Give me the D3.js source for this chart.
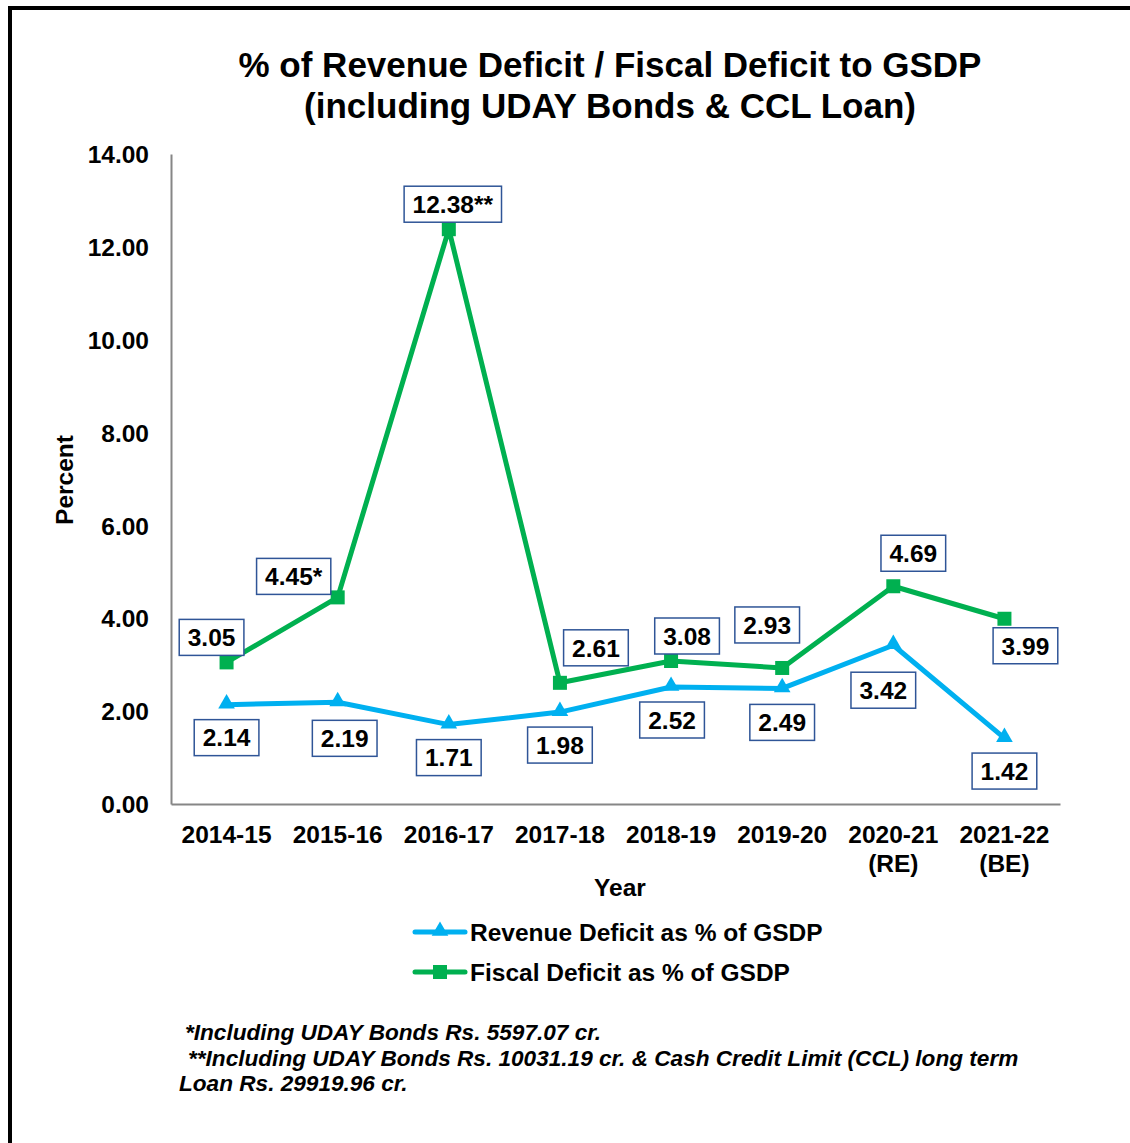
<!DOCTYPE html>
<html><head><meta charset="utf-8">
<script src="https://cdn.jsdelivr.net/npm/d3@7"></script>
<style>body{margin:0;background:#fff}svg{display:block}text{font-family:"Liberation Sans",Arial,sans-serif;font-weight:bold}</style>
</head><body><svg id="c" width="1130" height="1143"></svg>
<script>
const years = ["2014-15","2015-16","2016-17","2017-18","2018-19","2019-20","2020-21\n(RE)","2021-22\n(BE)"];
const revenueDeficit = [2.14,2.19,1.71,1.98,2.52,2.49,3.42,1.42];
const fiscalDeficit = [3.05,4.45,12.38,2.61,3.08,2.93,4.69,3.99];
const fiscalLabels = ["3.05","4.45*","12.38**","2.61","3.08","2.93","4.69","3.99"];
const revenueLabels = ["2.14","2.19","1.71","1.98","2.52","2.49","3.42","1.42"];
const yTicks = [0,2,4,6,8,10,12,14];
const fiscalOffsets = [[-15,-25],[-44,-21],[4,-25],[36,-35],[16,-25],[-15,-43],[20,-33],[21,27]];
const revenueOffsets = [[0,33],[7,36],[0,33],[0,33],[1,33],[0,34],[-10,45],[0,33]];
const footnotes = ["*Including UDAY Bonds Rs. 5597.07 cr.","**Including UDAY Bonds Rs. 10031.19 cr. & Cash Credit Limit (CCL) long term","Loan Rs. 29919.96 cr."];

const svg = d3.select("#c");
const blue = "#00B0F0", green = "#00B050", boxStroke = "#2F5597";
const FS = 24.5;

svg.append("rect").attr("x",10).attr("y",8).attr("width",1140).attr("height",1160)
  .attr("fill","none").attr("stroke","#000").attr("stroke-width",4);

svg.append("text").attr("x",610).attr("y",77).attr("text-anchor","middle").attr("font-size",35)
  .text("% of Revenue Deficit / Fiscal Deficit to GSDP");
svg.append("text").attr("x",610).attr("y",118).attr("text-anchor","middle").attr("font-size",35)
  .text("(including UDAY Bonds & CCL Loan)");

const x = d3.scaleBand().domain(years).range([171,1060]);
const y = d3.scaleLinear().domain([0,14]).range([804,154]);
const cx = d => x(d) + x.bandwidth()/2;

const yAx = svg.append("g").attr("transform","translate(171,0)")
  .call(d3.axisLeft(y).tickValues(yTicks).tickFormat(d3.format(".2f")).tickSize(0).tickPadding(22));
yAx.select(".domain").attr("stroke","#868686").attr("stroke-width",2);
yAx.selectAll("text").attr("font-size",FS).attr("fill","#000").attr("font-family","Liberation Sans").attr("font-weight","bold").attr("dy","0.35em");

const xAx = svg.append("g").attr("transform","translate(0,804)")
  .call(d3.axisBottom(x).tickSize(0).tickFormat(""));
xAx.select(".domain").attr("stroke","#868686").attr("stroke-width",2);
xAx.selectAll(".tick").each(function(d){
  const parts = d.split("\n");
  const t = d3.select(this).append("text").attr("font-size",FS).attr("fill","#000").attr("text-anchor","middle")
    .attr("font-family","Liberation Sans").attr("font-weight","bold");
  parts.forEach((p,i)=>t.append("tspan").attr("x",0).attr("y",39+i*29).text(p));
});

svg.append("text").attr("x",620).attr("y",896).attr("text-anchor","middle").attr("font-size",FS).text("Year");
svg.append("text").attr("transform","translate(73,480) rotate(-90)").attr("text-anchor","middle").attr("font-size",FS).text("Percent");

const line = d3.line().x((d,i)=>cx(years[i])).y(d=>y(d));
svg.append("path").datum(revenueDeficit).attr("d",line).attr("fill","none").attr("stroke",blue).attr("stroke-width",5).attr("stroke-linejoin","round");
svg.append("path").datum(fiscalDeficit).attr("d",line).attr("fill","none").attr("stroke",green).attr("stroke-width",5).attr("stroke-linejoin","round");

const tri = d3.symbol().type(d3.symbolTriangle).size(120);
svg.selectAll(".rm").data(revenueDeficit).enter().append("path")
  .attr("d",tri).attr("fill",blue)
  .attr("transform",(d,i)=>`translate(${cx(years[i])},${y(d)-1})`);
svg.selectAll(".fm").data(fiscalDeficit).enter().append("rect")
  .attr("x",(d,i)=>cx(years[i])-7).attr("y",d=>y(d)-7).attr("width",14).attr("height",14).attr("fill",green);

function labels(vals, texts, offs){
  vals.forEach((v,i)=>{
    const px = cx(years[i]) + offs[i][0], py = y(v) + offs[i][1];
    const g = svg.append("g");
    const t = g.append("text").attr("x",px).attr("y",py).attr("dy","0.36em").attr("text-anchor","middle").attr("font-size",FS).text(texts[i]);
    const w = t.node().getComputedTextLength() + 17;
    g.insert("rect","text").attr("x",px-w/2).attr("y",py-18).attr("width",w).attr("height",36)
      .attr("fill","#fff").attr("stroke",boxStroke).attr("stroke-width",1.5);
  });
}
labels(fiscalDeficit, fiscalLabels, fiscalOffsets);
labels(revenueDeficit, revenueLabels, revenueOffsets);

const legend = [{name:"Revenue Deficit as % of GSDP",color:blue,shape:"tri"},{name:"Fiscal Deficit as % of GSDP",color:green,shape:"sq"}];
legend.forEach((l,i)=>{
  const ly = 932 + i*40;
  svg.append("line").attr("x1",415).attr("x2",465).attr("y1",ly).attr("y2",ly).attr("stroke",l.color).attr("stroke-width",5).attr("stroke-linecap","round");
  if(l.shape==="tri") svg.append("path").attr("d",tri).attr("fill",l.color).attr("transform",`translate(440,${ly-1})`);
  else svg.append("rect").attr("x",433).attr("y",ly-7).attr("width",14).attr("height",14).attr("fill",l.color);
  svg.append("text").attr("x",470).attr("y",ly).attr("dy","0.35em").attr("font-size",FS).text(l.name);
});

const fx = [185,188,179];
footnotes.forEach((f,i)=>{
  svg.append("text").attr("x",fx[i]).attr("y",1040+i*25.5).attr("font-size",22.6).attr("font-style","italic").text(f);
});
</script></body></html>
